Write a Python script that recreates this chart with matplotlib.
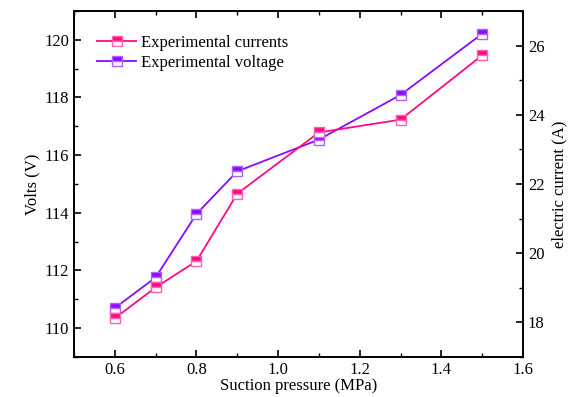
import matplotlib.pyplot as plt
from matplotlib.ticker import MultipleLocator

plt.rcParams['font.family'] = ['Liberation Serif', 'DejaVu Serif']

pressure = [0.6, 0.7, 0.8, 0.9, 1.1, 1.3, 1.5]
current = [18.12, 19.01, 19.77, 21.72, 23.49, 23.86, 25.72]
voltage = [110.70, 111.76, 113.96, 115.44, 116.54, 118.09, 120.21]

pink = '#FF0A82'
violet = '#8A0AFF'

fig = plt.figure(figsize=(5.76, 3.97), dpi=100)
ax = fig.add_axes([0.1285, 0.1008, 0.7795, 0.8715])
ax2 = ax.twinx()

mk = dict(marker='s', markersize=7, fillstyle='top', markerfacecoloralt='white',
          markeredgewidth=1.0, linewidth=1.3)
l2, = ax.plot(pressure, voltage, color=violet, markerfacecolor=violet,
              markeredgecolor='#B060FF', label='Experimental voltage', **mk)
l1, = ax2.plot(pressure, current, color=pink, markerfacecolor=pink,
               markeredgecolor='#FF60B0', label='Experimental currents', **mk)

ax.set_xlim(0.5, 1.6)
ax.set_ylim(109, 121)
ax2.set_ylim(17, 27)

ax.xaxis.set_major_locator(MultipleLocator(0.2))
ax.xaxis.set_minor_locator(MultipleLocator(0.1))
ax.yaxis.set_major_locator(MultipleLocator(2))
ax.yaxis.set_minor_locator(MultipleLocator(1))
ax2.yaxis.set_major_locator(MultipleLocator(2))
ax2.yaxis.set_minor_locator(MultipleLocator(1))
ax.xaxis.set_major_formatter(plt.FuncFormatter(lambda v, p: f'{v:.1f}'))

ax.tick_params(axis='x', which='both', direction='in', top=True, labelsize=12)
ax.tick_params(axis='y', which='both', direction='in', right=False, labelsize=12)
ax2.tick_params(axis='y', which='both', direction='in', labelsize=12)
for a in (ax, ax2):
    a.tick_params(which='major', length=5, width=1.2)
    a.tick_params(which='minor', length=3, width=1.0)
    for s in a.spines.values():
        s.set_linewidth(1.2)

ax.set_xlabel('Suction pressure (MPa)', fontsize=12, labelpad=0)
ax.set_ylabel('Volts (V)', fontsize=12, labelpad=3)
ax2.set_ylabel('electric current (A)', fontsize=12, labelpad=5)

ax2.legend(handles=[l1, l2], loc='upper left', bbox_to_anchor=(0.03, 0.96),
           frameon=False, fontsize=12, handlelength=2.3, handletextpad=0.3,
           labelspacing=0.25, borderaxespad=0.2)

fig.savefig('out.png', dpi=100)
